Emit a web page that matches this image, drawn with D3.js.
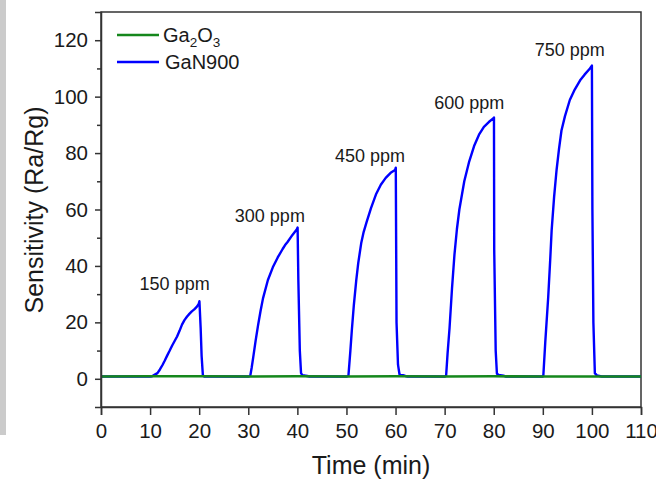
<!DOCTYPE html>
<html>
<head>
<meta charset="utf-8">
<script src="https://cdn.jsdelivr.net/npm/d3@7"></script>
<style>
  html, body { margin: 0; padding: 0; background: #fff; }
  svg { display: block; font-family: "Liberation Sans", Arial, sans-serif; }
</style>
</head>
<body>
<svg id="chart" width="656" height="480"></svg>
<script>
// ---- data ----
const ganTime = [
  0, 10, 10.4, 10.8, 11.5, 12, 12.5, 13, 13.5, 14, 14.5, 15, 15.5, 16, 16.5, 17, 17.5, 18, 18.5, 19, 19.5, 19.9, 20.05, 20.3, 20.5, 20.75, 21,
  30, 30.4, 30.7, 31, 31.5, 32, 32.5, 33, 34, 35, 36, 37, 37.5, 38, 39, 39.9, 40.05, 40.2, 40.5, 40.75, 41, 42, 42.5,
  50, 50.4, 50.8, 51.1, 51.5, 52, 52.4, 53, 53.5, 54.1, 55, 56, 57, 58, 59, 59.9, 60.05, 60.2, 60.5, 60.8, 61, 61.5, 62, 62.5,
  70, 70.3, 70.6, 71, 71.5, 72, 72.5, 73, 74, 75, 76, 77, 78, 79, 79.9, 80.05, 80.1, 80.4, 80.65, 81, 82, 82.5,
  90, 90.1, 90.5, 91.1, 91.5, 91.8, 92.3, 92.8, 93.3, 93.8, 94.5, 95.5, 96.5, 97.6, 98.5, 99.6, 100, 100.1, 100.3, 100.6, 101, 102, 110
];
const ganSensitivity = [
  0.8, 0.8, 0.9, 1.3, 2, 3.3, 4.8, 6.5, 8.3, 10, 11.8, 13.4, 15, 17, 19.2, 20.8, 22, 23, 23.9, 24.6, 25.5, 26.5, 27.5, 18, 8, 1.3, 0.8,
  0.8, 1.0, 4, 7.5, 13.5, 19, 24, 28.5, 35, 39.5, 43, 46, 47.4, 48.5, 51, 53, 53.6, 35, 10, 2.0, 1.3, 1.0, 0.8,
  0.8, 1.0, 10, 17.3, 26, 35, 41, 48, 52, 55.5, 60.5, 65.3, 68.8, 71.2, 73, 74, 74.8, 20, 5, 1.6, 1.4, 1.3, 1.0, 0.8,
  0.8, 1.0, 9, 18, 32, 44, 53, 60, 70, 77, 82.5, 86.5, 89.3, 91, 92.3, 92.6, 45.7, 10, 1.8, 1.4, 1.1, 0.8,
  0.8, 1.0, 13, 29, 42, 52.7, 64.5, 74, 81.5, 88, 93, 98.8, 102.5, 105.8, 107.8, 110, 111, 60, 20, 2, 1.2, 0.8, 0.8
];
const ga2o3Time = [0, 10, 20, 30, 40, 50, 60, 70, 80, 90, 100, 110];
const ga2o3Sensitivity = [0.8, 0.9, 0.9, 0.8, 0.9, 0.8, 0.9, 0.8, 0.9, 0.8, 0.8, 0.8];

const xTicks = [0, 10, 20, 30, 40, 50, 60, 70, 80, 90, 100, 110];
const yTicks = [0, 20, 40, 60, 80, 100, 120];
const yMinorTicks = [10, 30, 50, 70, 90, 110];

const concLabels = ["150 ppm", "300 ppm", "450 ppm", "600 ppm", "750 ppm"];
const concLabelTime = [15, 34.4, 54.8, 75, 95.5];
const concLabelValue = [31.5, 55.6, 77, 95.5, 114.3];

// ---- chart ----
const svg = d3.select("#chart");
const W = 656, H = 480;
const m = { left: 101, right: 15, top: 12, bottom: 73 };

// gray strip on the left edge
svg.append("rect").attr("x", 0).attr("y", 0).attr("width", 6).attr("height", 435).attr("fill", "#cbcbcb");

const x = d3.scaleLinear().domain([0, 110]).range([m.left, W - m.right]);
const y = d3.scaleLinear().domain([-10, 130]).range([H - m.bottom, m.top]);

const axisColor = "#333";
const textColor = "#1a1a1a";
const tickFont = 20.5;

// frame
svg.append("rect")
  .attr("x", x(0)).attr("y", y(130))
  .attr("width", x(110) - x(0)).attr("height", y(-10) - y(130))
  .attr("fill", "none").attr("stroke", axisColor).attr("stroke-width", 1.5);

// data lines (blue under green)
const line = d3.line().x(d => x(d[0])).y(d => y(d[1]));
const ganPts = ganTime.map((t, i) => [t, ganSensitivity[i]]);
const gaPts = ga2o3Time.map((t, i) => [t, ga2o3Sensitivity[i]]);

svg.append("path").datum(ganPts).attr("d", line)
  .attr("fill", "none").attr("stroke", "#0000ff").attr("stroke-width", 2.4).attr("stroke-linejoin", "round");
svg.append("path").datum(gaPts).attr("d", line)
  .attr("fill", "none").attr("stroke", "#15871c").attr("stroke-width", 2.6).attr("stroke-linejoin", "round");

// axes
const xAxis = d3.axisBottom(x).tickValues(xTicks).tickSize(8).tickPadding(5).tickFormat(d3.format("d"));
const gx = svg.append("g").attr("transform", `translate(0,${y(-10)})`).call(xAxis);
gx.select(".domain").attr("stroke", axisColor).attr("stroke-width", 1.5);
gx.selectAll(".tick line").attr("stroke", axisColor).attr("stroke-width", 1.5);
gx.selectAll(".tick text").attr("font-size", tickFont).attr("fill", textColor)
  .attr("font-family", "Liberation Sans, Arial, sans-serif").attr("y", 31).attr("dy", 0);

const yAxis = d3.axisLeft(y).tickValues(yTicks).tickSize(6).tickPadding(7).tickFormat(d3.format("d"));
const gy = svg.append("g").attr("transform", `translate(${x(0)},0)`).call(yAxis);
gy.select(".domain").attr("stroke", axisColor).attr("stroke-width", 1.5);
gy.selectAll(".tick line").attr("stroke", axisColor).attr("stroke-width", 1.5);
gy.selectAll(".tick text").attr("font-size", tickFont).attr("fill", textColor)
  .attr("font-family", "Liberation Sans, Arial, sans-serif");

const yMinor = d3.axisLeft(y).tickValues(yMinorTicks).tickSize(4).tickFormat("");
const gym = svg.append("g").attr("transform", `translate(${x(0)},0)`).call(yMinor);
gym.select(".domain").remove();
gym.selectAll(".tick line").attr("stroke", axisColor).attr("stroke-width", 1.5);

// axis titles
svg.append("text").attr("x", (x(0) + x(110)) / 2).attr("y", 474)
  .attr("text-anchor", "middle").attr("font-size", 25).attr("fill", textColor).text("Time (min)");
svg.append("text").attr("transform", `translate(43,210) rotate(-90)`)
  .attr("text-anchor", "middle").attr("font-size", 25).attr("fill", textColor).text("Sensitivity (Ra/Rg)");

// concentration labels
concLabels.forEach((lab, i) => {
  svg.append("text").attr("x", x(concLabelTime[i])).attr("y", y(concLabelValue[i]))
    .attr("text-anchor", "middle").attr("font-size", 18).attr("fill", textColor).text(lab);
});

// legend
const leg = svg.append("g");
leg.append("line").attr("x1", 117).attr("x2", 159).attr("y1", 35).attr("y2", 35)
  .attr("stroke", "#15871c").attr("stroke-width", 2.6);
const t1 = leg.append("text").attr("x", 163).attr("y", 42).attr("font-size", 20).attr("fill", textColor);
t1.append("tspan").text("Ga");
t1.append("tspan").attr("font-size", 13.5).attr("dy", 5).text("2");
t1.append("tspan").attr("dy", -5).text("O");
t1.append("tspan").attr("font-size", 13.5).attr("dy", 5).text("3");
leg.append("line").attr("x1", 117).attr("x2", 159).attr("y1", 62).attr("y2", 62)
  .attr("stroke", "#0000ff").attr("stroke-width", 2.6);
leg.append("text").attr("x", 165).attr("y", 69).attr("font-size", 20).attr("fill", textColor).text("GaN900");
</script>
</body>
</html>
